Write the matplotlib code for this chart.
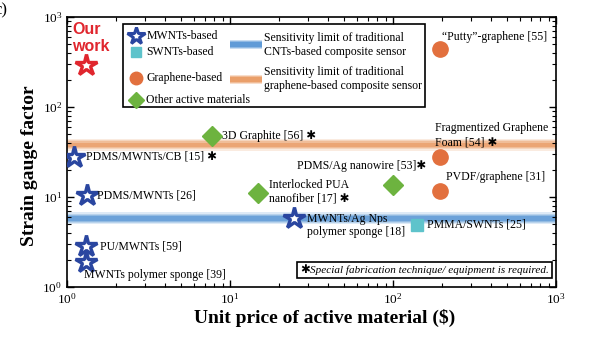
import matplotlib
matplotlib.use("Agg")
import matplotlib.pyplot as plt
from matplotlib.patches import Rectangle
from matplotlib.ticker import LogLocator, NullFormatter

plt.rcParams.update({"font.family": ["Liberation Serif", "DejaVu Sans"],
                     "mathtext.fontset": "stix"})

BLUE, TEAL, ORANGE, GREEN, RED = "#2A46A0", "#5EC3CB", "#E2703E", "#6DB33F", "#E0262E"
BAND_BLUE, BAND_ORANGE = "#4C8FD2", "#E89358"
AST = "\u2731"

# price ($) and gauge factor for each material group
our_price, our_gf = [1.31], [290]
mwnt_names = ["PDMS/MWNTs/CB [15] " + AST, "PDMS/MWNTs [26]", "PU/MWNTs [59]",
              "MWNTs polymer sponge [39]", "MWNTs/Ag Nps\npolymer sponge [18]"]
mwnt_price = [1.10, 1.33, 1.31, 1.31, 24.7]
mwnt_gf = [28, 10.5, 2.85, 1.9, 5.8]
swnt_names = ["PMMA/SWNTs [25]"]
swnt_price = [140]
swnt_gf = [4.9]
graph_names = ["\u201cPutty\u201d-graphene [55]", "Fragmentized Graphene\nFoam [54] " + AST,
               "PVDF/graphene [31]"]
graph_price = [195, 195, 195]
graph_gf = [440, 28, 11.7]
other_names = ["3D Graphite [56] " + AST, "Interlocked PUA\nnanofiber [17] " + AST,
               "PDMS/Ag nanowire [53]" + AST]
other_price = [7.8, 14.9, 100]
other_gf = [48, 11.1, 13.6]
cnt_limit, graphene_limit = 5.8, 38

fig = plt.figure(figsize=(6.08, 3.46), dpi=100)
ax = fig.add_axes([67 / 608, 59 / 346, 489 / 608, 270 / 346])
ax.set_xscale("log")
ax.set_yscale("log")
ax.set_xlim(1, 1000)
ax.set_ylim(1, 1000)


def band(y0, color):
    # soft-edged horizontal band: stacked translucent spans
    for k, a in zip([1.16, 1.12, 1.09, 1.06], [0.18, 0.25, 0.35, 0.55]):
        ax.axhspan(y0 / k, y0 * k, color=color, alpha=a, lw=0, zorder=1)


band(cnt_limit, BAND_BLUE)
band(graphene_limit, BAND_ORANGE)

star_kw = dict(marker="*", ms=16, mfc="white", mew=2.4, ls="none", zorder=5)
ax.plot(our_price, our_gf, mec=RED, **star_kw)
ax.plot(mwnt_price, mwnt_gf, mec=BLUE, **star_kw)
ax.plot(swnt_price, swnt_gf, marker="s", ms=8, color=TEAL, ls="none", zorder=5)
ax.plot(graph_price, graph_gf, marker="o", ms=11, color=ORANGE, ls="none", zorder=5)
ax.plot(other_price, other_gf, marker="D", ms=10, color=GREEN, ls="none", zorder=5)

ax.text(1.08, 870, "Our\nwork", color=RED, fontsize=11.5, fontweight="bold",
        family="Liberation Sans", ha="left", va="top", linespacing=1.15)

fs = 8.5


def label(x, y, s, dx, dy, ha="left", ls=1.15):
    ax.annotate(s, (x, y), xytext=(dx, dy), textcoords="offset points",
                fontsize=fs, ha=ha, va="center", linespacing=ls, zorder=6)


mwnt_off = [(8.6, 0), (7.2, 0), (10, 0), (-1.5, -9.4), (9.4, -5)]
for x, y, s, (dx, dy) in zip(mwnt_price, mwnt_gf, mwnt_names, mwnt_off):
    label(x, y, s, dx, dy, ls=1.1)
label(swnt_price[0], swnt_gf[0], swnt_names[0], 7.2, 0)
graph_off = [(1.4, 8.6), (-3.6, 15.5), (4.3, 10)]
for x, y, s, (dx, dy) in zip(graph_price, graph_gf, graph_names, graph_off):
    label(x, y, s, dx, dy, ls=1.2)
other_off = [(7.2, 0, "left"), (8, 1, "left"), (24, 13.7, "right")]
for x, y, s, (dx, dy, ha) in zip(other_price, other_gf, other_names, other_off):
    label(x, y, s, dx, dy, ha=ha, ls=1.2)

# legend drawn by hand in axes fractions
T = ax.transAxes
ax.add_patch(Rectangle((0.1145, 0.667), 0.6175, 0.307, transform=T, fill=False,
                       lw=1.2, ec="black", zorder=7))
lx, tx = 0.1405, 0.162
rows = [(0.930, dict(marker="*", ms=13, mfc="white", mec=BLUE, mew=2.2), "MWNTs-based"),
        (0.870, dict(marker="s", ms=7, color=TEAL, mec=TEAL), "SWNTs-based"),
        (0.775, dict(marker="o", ms=9, color=ORANGE, mec=ORANGE), "Graphene-based"),
        (0.692, dict(marker="D", ms=8, color=GREEN, mec=GREEN), "Other active materials")]
for yy, mk, txt in rows:
    ax.plot([lx], [yy], transform=T, ls="none", zorder=8, clip_on=False, **mk)
    ax.text(tx, yy, txt, transform=T, fontsize=fs, va="center", zorder=8)
for yy, col, txt in [(0.897, BAND_BLUE, "Sensitivity limit of traditional\nCNTs-based composite sensor"),
                     (0.770, BAND_ORANGE, "Sensitivity limit of traditional\ngraphene-based composite sensor")]:
    for h, a in zip([0.034, 0.026, 0.018], [0.3, 0.45, 0.7]):
        ax.add_patch(Rectangle((0.333, yy - h / 2), 0.066, h, transform=T, color=col,
                               alpha=a, lw=0, zorder=8))
    ax.text(0.403, yy, txt, transform=T, fontsize=fs, va="center", linespacing=1.2, zorder=8)

# note on fabrication requirements
ax.add_patch(Rectangle((0.47, 0.033), 0.521, 0.06, transform=T, fill=False,
                       lw=1.2, ec="black", zorder=7))
ax.text(0.477, 0.063, AST, transform=T, fontsize=fs, va="center", zorder=8)
ax.text(0.497, 0.063, "Special fabrication technique/ equipment is required.",
        transform=T, fontsize=8.0, style="italic", va="center", zorder=8)

ax.set_xlabel("Unit price of active material ($)", fontsize=14, fontweight="bold")
ax.set_ylabel("Strain gauge factor", fontsize=14, fontweight="bold")
ax.xaxis.set_label_coords(0.526, -0.083)
ax.yaxis.set_label_coords(-0.059, 0.45)
for axis in (ax.xaxis, ax.yaxis):
    axis.set_major_locator(LogLocator(base=10, numticks=10))
    axis.set_minor_locator(LogLocator(base=10, subs=range(2, 10), numticks=10))
    axis.set_minor_formatter(NullFormatter())
ax.tick_params(which="both", direction="in", top=True, right=True, labelsize=9.5)
ax.tick_params(which="major", length=5, width=1.0)
ax.tick_params(which="minor", length=3, width=0.8)
for s in ax.spines.values():
    s.set_linewidth(1.2)

fig.text(-0.009, 0.971, "c)", fontsize=12, va="center", ha="left")

fig.savefig("out.png", dpi=100)
